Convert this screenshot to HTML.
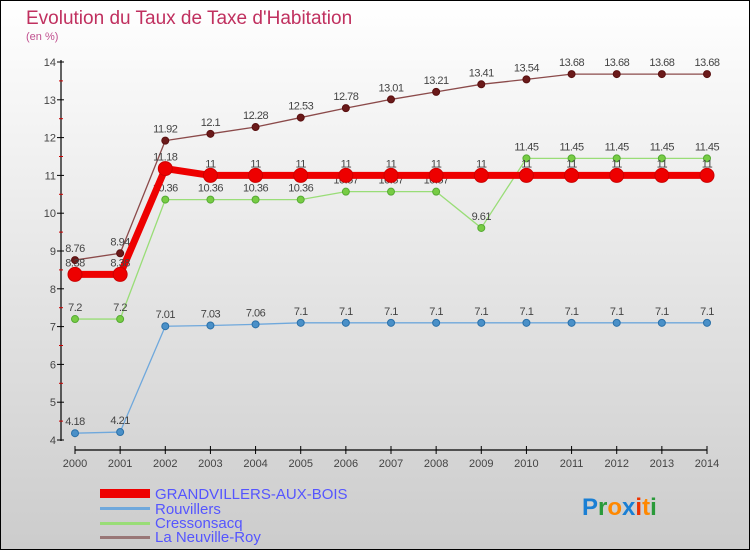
<!DOCTYPE html>
<html><head><meta charset="utf-8"><style>
body{margin:0}
svg{display:block;font-family:"Liberation Sans",sans-serif}
</style></head><body>
<svg id="c" width="750" height="550" viewBox="0 0 750 550">
<defs><linearGradient id="bg" x1="0" y1="0" x2="0" y2="1"><stop offset="0" stop-color="#ffffff"/><stop offset="1" stop-color="#cccccc"/></linearGradient></defs>
<rect x="0.5" y="0.5" width="749" height="549" fill="url(#bg)" stroke="#000"/>
<text x="26" y="24" font-size="19" fill="#c0305f">Evolution du Taux de Taxe d'Habitation</text>
<text x="26" y="40" font-size="11" fill="#c0508f">(en %)</text>
<g id="axes"></g><g id="series"></g>
<g>
<rect x="100" y="489" width="50" height="9" fill="#ee0000"/>
<text x="155" y="499" font-size="15" fill="#5555ff">GRANDVILLERS-AUX-BOIS</text>
<rect x="100" y="507" width="50" height="3" fill="#6fa8dc"/>
<text x="155" y="514" font-size="15" fill="#5555ff">Rouvillers</text>
<rect x="100" y="522" width="50" height="3" fill="#99dd77"/>
<text x="155" y="528" font-size="15" fill="#5555ff">Cressonsacq</text>
<rect x="100" y="536" width="50" height="3" fill="#997777"/>
<text x="155" y="542" font-size="15" fill="#5555ff">La Neuville-Roy</text>
</g>
<g font-size="24" font-weight="bold">
<text x="582" y="515"><tspan fill="#1a7fd4">P</tspan><tspan fill="#2a9a3a">r</tspan><tspan fill="#ff8800">o</tspan><tspan fill="#1a7fd4">x</tspan><tspan fill="#ee3300">i</tspan><tspan fill="#ff8800">t</tspan><tspan fill="#2a9a3a">i</tspan></text>
</g>
</svg>
<script>
const years=[2000,2001,2002,2003,2004,2005,2006,2007,2008,2009,2010,2011,2012,2013,2014];
const yTicks=[4,5,6,7,8,9,10,11,12,13,14];
const grand=[8.38,8.38,11.18,11,11,11,11,11,11,11,11,11,11,11,11];
const rouv=[4.18,4.21,7.01,7.03,7.06,7.1,7.1,7.1,7.1,7.1,7.1,7.1,7.1,7.1,7.1];
const cress=[7.2,7.2,10.36,10.36,10.36,10.36,10.57,10.57,10.57,9.61,11.45,11.45,11.45,11.45,11.45];
const neuv=[8.76,8.94,11.92,12.1,12.28,12.53,12.78,13.01,13.21,13.41,13.54,13.68,13.68,13.68,13.68];
const NS='http://www.w3.org/2000/svg';
const X=i=>75+i*(707-75)/(years.length-1);
const Y=v=>440-(v-4)*37.8;
function mk(t,a,p){const e=document.createElementNS(NS,t);for(const k in a)e.setAttribute(k,a[k]);p.appendChild(e);return e;}
const ax=document.getElementById('axes');
mk('line',{x1:61,y1:60,x2:61,y2:441,stroke:'#000','stroke-width':1.2},ax);
mk('line',{x1:75,y1:450,x2:707,y2:450,stroke:'#000','stroke-width':1.2},ax);
yTicks.forEach(v=>{
 mk('line',{x1:57,y1:Y(v),x2:64,y2:Y(v),stroke:'#000'},ax);
 if(v<14)mk('line',{x1:59,y1:Y(v+0.5),x2:63,y2:Y(v+0.5),stroke:'#cc0000'},ax);
 const t=mk('text',{x:56,y:Y(v)+4,'font-size':11,fill:'#444','text-anchor':'end'},ax);
 t.textContent=v;
});
years.forEach((yr,i)=>{
 mk('line',{x1:X(i),y1:446,x2:X(i),y2:454,stroke:'#000'},ax);
 const t=mk('text',{x:X(i),y:467,'font-size':11,fill:'#444','text-anchor':'middle'},ax);
 t.textContent=yr;
});
const sg=document.getElementById('series');
function draw(vals,name,color,w,r,dot,stroke){
 const g=mk('g',{},sg);
 
 
 mk('polyline',{points:vals.map((v,i)=>X(i)+','+Y(v)).join(' '),fill:'none',stroke:color,'stroke-width':w,'stroke-linejoin':'round'},g);
 vals.forEach((v,i)=>{
  const c=mk('circle',{cx:X(i),cy:Y(v),r:r,fill:dot,stroke:stroke,'stroke-width':1},g);
  
  
  const t=mk('text',{x:X(i),y:Y(v)-8,'font-size':11,fill:'#444','text-anchor':'middle','letter-spacing':'-0.5'},g);
  
  
  t.textContent=v;
 });
}
draw(neuv,'la-neuville-roy','#8b4a4a',1.3,3.5,'#6b1a1a','#5a1010');
draw(cress,'cressonsacq','#99dd77',1.3,3.5,'#77cc44','#55aa33');
draw(rouv,'rouvillers','#6fa8dc',1.3,3.5,'#4a90c8','#2a70a8');
draw(grand,'grandvillers','#ee0000',7,7,'#ee0000','#cc0000');
</script>
</body></html>
